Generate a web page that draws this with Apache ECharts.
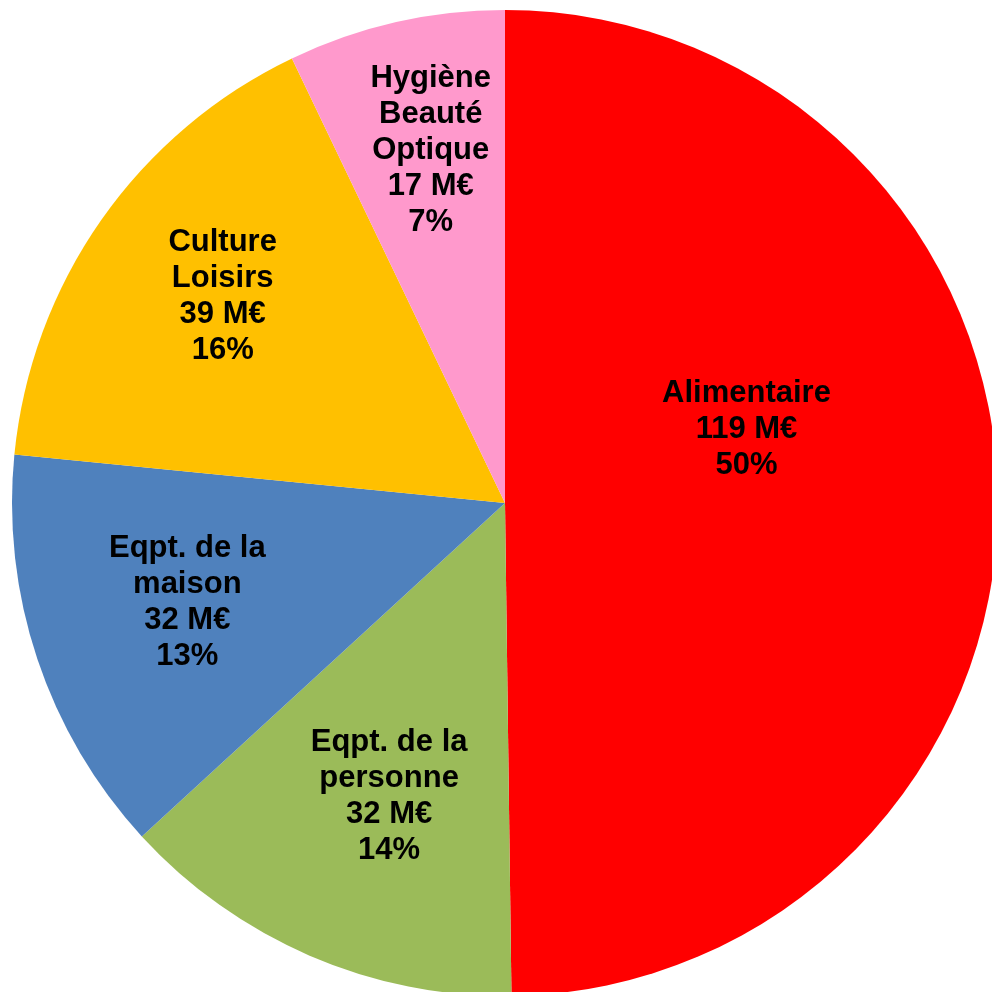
<!DOCTYPE html>
<html>
<head>
<meta charset="utf-8">
<script src="https://cdn.jsdelivr.net/npm/echarts@6/dist/echarts.min.js"></script>
<style>
html,body{margin:0;padding:0;background:#fff;}
#chart{width:992px;height:992px;}
</style>
</head>
<body>
<div id="chart"></div>
<script>
// Data
const categories = ["Alimentaire", "Eqpt. de la\npersonne", "Eqpt. de la\nmaison", "Culture\nLoisirs", "Hygiène\nBeauté\nOptique"];
const amounts = [119, 32, 32, 39, 17];                  // M€
const amountLabels = ["119 M€", "32 M€", "32 M€", "39 M€", "17 M€"];
const percentLabels = ["50%", "14%", "13%", "16%", "7%"];

// Styles
const colors = ["#FF0000", "#9BBB59", "#4F81BD", "#FFC000", "#FF99CC"];
const labelShift = [[-8, -72], [-17, 64], [-81, 20], [-78, -63], [-19, -109]];

const chart = echarts.init(document.getElementById('chart'), null, {renderer: 'canvas'});
chart.setOption({
  animation: false,
  backgroundColor: '#ffffff',
  series: [{
    type: 'pie',
    center: [505, 503],
    radius: [0, 493],
    startAngle: 90,
    clockwise: true,
    silent: true,
    avoidLabelOverlap: false,
    itemStyle: {borderWidth: 0},
    label: {
      show: true,
      position: 'inside',
      color: '#000',
      fontFamily: '"Liberation Sans", Arial, sans-serif',
      fontWeight: 'bold',
      fontSize: 31,
      lineHeight: 36,
      align: 'center',
      formatter: p => categories[p.dataIndex] + '\n' + amountLabels[p.dataIndex] + '\n' + percentLabels[p.dataIndex]
    },
    labelLine: {show: false},
    labelLayout: p => ({dx: labelShift[p.dataIndex][0], dy: labelShift[p.dataIndex][1]}),
    data: categories.map((c, i) => ({name: c, value: amounts[i], itemStyle: {color: colors[i]}}))
  }]
});
</script>
</body>
</html>
